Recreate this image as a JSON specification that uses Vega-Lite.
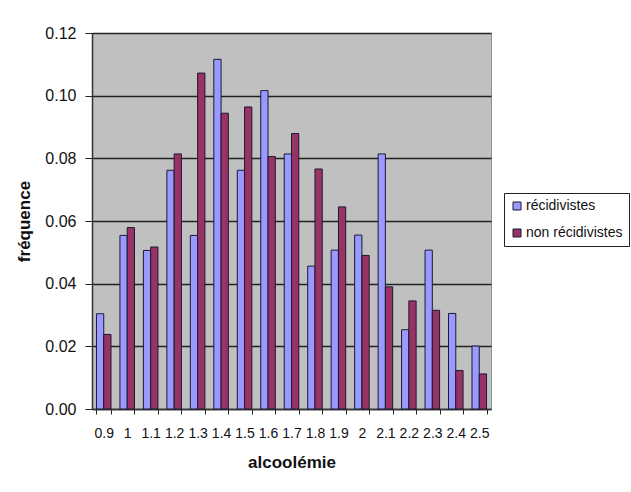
{
  "$schema": "https://vega.github.io/schema/vega-lite/v6.json",
  "autosize": {"type": "none"},
  "padding": {"left": 92, "top": 33, "right": 140, "bottom": 83},
  "width": 399,
  "height": 376,
  "background": "white",
  "data": {
    "values": [
      {"alc": "0.9", "group": "récidivistes", "freq": 0.0304},
      {"alc": "0.9", "group": "non récidivistes", "freq": 0.0238},
      {"alc": "1", "group": "récidivistes", "freq": 0.0554},
      {"alc": "1", "group": "non récidivistes", "freq": 0.0579},
      {"alc": "1.1", "group": "récidivistes", "freq": 0.0506},
      {"alc": "1.1", "group": "non récidivistes", "freq": 0.0517},
      {"alc": "1.2", "group": "récidivistes", "freq": 0.0762},
      {"alc": "1.2", "group": "non récidivistes", "freq": 0.0814},
      {"alc": "1.3", "group": "récidivistes", "freq": 0.0554},
      {"alc": "1.3", "group": "non récidivistes", "freq": 0.1072},
      {"alc": "1.4", "group": "récidivistes", "freq": 0.1116},
      {"alc": "1.4", "group": "non récidivistes", "freq": 0.0944},
      {"alc": "1.5", "group": "récidivistes", "freq": 0.0762},
      {"alc": "1.5", "group": "non récidivistes", "freq": 0.0964},
      {"alc": "1.6", "group": "récidivistes", "freq": 0.1016},
      {"alc": "1.6", "group": "non récidivistes", "freq": 0.0806},
      {"alc": "1.7", "group": "récidivistes", "freq": 0.0814},
      {"alc": "1.7", "group": "non récidivistes", "freq": 0.0879},
      {"alc": "1.8", "group": "récidivistes", "freq": 0.0456},
      {"alc": "1.8", "group": "non récidivistes", "freq": 0.0766},
      {"alc": "1.9", "group": "récidivistes", "freq": 0.0507},
      {"alc": "1.9", "group": "non récidivistes", "freq": 0.0645},
      {"alc": "2", "group": "récidivistes", "freq": 0.0555},
      {"alc": "2", "group": "non récidivistes", "freq": 0.049},
      {"alc": "2.1", "group": "récidivistes", "freq": 0.0814},
      {"alc": "2.1", "group": "non récidivistes", "freq": 0.039},
      {"alc": "2.2", "group": "récidivistes", "freq": 0.0253},
      {"alc": "2.2", "group": "non récidivistes", "freq": 0.0345},
      {"alc": "2.3", "group": "récidivistes", "freq": 0.0507},
      {"alc": "2.3", "group": "non récidivistes", "freq": 0.0315},
      {"alc": "2.4", "group": "récidivistes", "freq": 0.0305},
      {"alc": "2.4", "group": "non récidivistes", "freq": 0.0123},
      {"alc": "2.5", "group": "récidivistes", "freq": 0.0201},
      {"alc": "2.5", "group": "non récidivistes", "freq": 0.0112}
    ]
  },
  "mark": {"type": "bar", "stroke": "#1a1a33", "strokeWidth": 1},
  "encoding": {
    "x": {
      "field": "alc",
      "type": "ordinal",
      "sort": ["0.9","1","1.1","1.2","1.3","1.4","1.5","1.6","1.7","1.8","1.9","2","2.1","2.2","2.3","2.4","2.5"],
      "scale": {"paddingInner": 0.38, "paddingOuter": 0.19},
      "axis": {
        "title": "alcoolémie",
        "labelAngle": 0,
        "tickBand": "extent",
        "tickSize": 5,
        "tickColor": "#222222",
        "domainColor": "#333333",
        "domainWidth": 1.5,
        "labelPadding": 12,
        "labelFontSize": 14,
        "labelColor": "#111111",
        "titlePadding": 14,
        "titleFontSize": 17,
        "titleFontWeight": "bold",
        "titleColor": "#111111"
      }
    },
    "xOffset": {
      "field": "group",
      "type": "nominal",
      "sort": ["récidivistes", "non récidivistes"]
    },
    "y": {
      "field": "freq",
      "type": "quantitative",
      "scale": {"domain": [0, 0.12]},
      "axis": {
        "title": "fréquence",
        "values": [0, 0.02, 0.04, 0.06, 0.08, 0.1, 0.12],
        "format": ".2f",
        "grid": true,
        "gridColor": "#222222",
        "gridWidth": 1.5,
        "tickSize": 7,
        "tickColor": "#222222",
        "domainColor": "#333333",
        "domainWidth": 1.5,
        "labelPadding": 9,
        "labelFontSize": 16,
        "labelColor": "#111111",
        "titlePadding": 11,
        "titleFontSize": 17,
        "titleFontWeight": "bold",
        "titleColor": "#111111"
      }
    },
    "color": {
      "field": "group",
      "type": "nominal",
      "sort": ["récidivistes", "non récidivistes"],
      "scale": {"domain": ["récidivistes", "non récidivistes"], "range": ["#9999ff", "#993366"]},
      "legend": {
        "title": null,
        "orient": "none",
        "legendX": 412,
        "legendY": 160,
        "strokeColor": "#222222",
        "fillColor": "white",
        "padding": 6,
        "rowPadding": 13,
        "symbolType": "square",
        "symbolSize": 64,
        "symbolStrokeColor": "#1a1a33",
        "symbolStrokeWidth": 1,
        "symbolOffset": 0,
        "labelFontSize": 14,
        "labelOffset": 2,
        "labelColor": "#111111"
      }
    }
  },
  "config": {
    "font": "Liberation Sans",
    "view": {"fill": "#c0c0c0", "stroke": "#909090", "strokeWidth": 1}
  }
}
